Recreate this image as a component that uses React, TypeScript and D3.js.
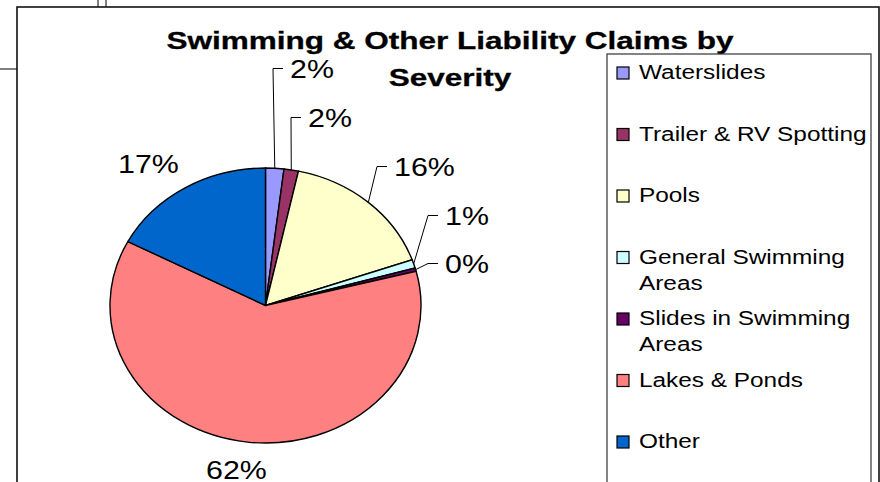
import * as d3 from 'd3';
import React from 'react';

// chart data
const categories = [
  'Waterslides',
  'Trailer & RV Spotting',
  'Pools',
  'General Swimming Areas',
  'Slides in Swimming Areas',
  'Lakes & Ponds',
  'Other',
];
const shares = [1.9, 1.5, 16.2, 1.0, 0.4, 61.7, 17.3];
const colors = ['#9999FF', '#993366', '#FFFFCC', '#CCFFFF', '#660066', '#FF8080', '#0066CC'];
const titleLines = ['Swimming & Other Liability Claims by', 'Severity'];

// where each percent label sits (left x, baseline y) and if it gets a leader line
const labelLayout: [number, number, boolean][] = [
  [290, 78, true],
  [308, 127, true],
  [394, 176, true],
  [445, 225, true],
  [445, 273, true],
  [206, 479, false],
  [118, 173, false],
];

const font = 'Arial, "Liberation Sans", sans-serif';

// wrap long legend entries on the last space
function wrap(s: string): string[] {
  if (s.length <= 21) return [s];
  const i = s.lastIndexOf(' ');
  return [s.slice(0, i), s.slice(i + 1)];
}

export default function App() {
  const width = 880;
  const height = 482;

  // pie geometry (the picture is stretched, so the pie is an ellipse)
  const cx = 265.5;
  const cy = 305.5;
  const rx = 155.5;
  const ry = 137.5;

  const arcs = d3.pie<number>().sort(null).value(d => d)(shares);
  const arc = d3.arc<d3.PieArcDatum<number>>().innerRadius(0).outerRadius(ry);

  // legend rows
  const legendX = 617;
  const legendTop = 79;
  const legendStep = 61.5;

  return (
    <svg
      width={width}
      height={height}
      style={{ position: 'absolute', left: 0, top: 0, background: '#fff' }}
    >
      {/* bits of the sheet behind the chart */}
      <line x1={98} y1={0} x2={98} y2={7} stroke="#000" />
      <line x1={106} y1={0} x2={106} y2={7} stroke="#000" />
      <line x1={0} y1={69} x2={17} y2={69} stroke="#000" />

      {/* chart frame */}
      <rect x={17} y={7} width={862} height={500} fill="#fff" stroke="#111" strokeWidth={1.6} />

      {/* title */}
      {titleLines.map((t, i) => (
        <text
          key={t}
          transform={`translate(450,${49 + i * 37}) scale(1.37,1)`}
          textAnchor="middle"
          fontFamily={font}
          fontWeight="bold"
          fontSize={23}
          stroke="#000"
          strokeWidth={0.3}
          fill="#000"
        >
          {t}
        </text>
      ))}

      {/* slices */}
      <g transform={`translate(${cx},${cy}) scale(${rx / ry},1)`}>
        {arcs.map((a, i) => (
          <path
            key={categories[i]}
            d={arc(a) || ''}
            fill={colors[i]}
            stroke="#000"
            strokeWidth={1.4}
            vectorEffect="non-scaling-stroke"
          />
        ))}
      </g>

      {/* percent labels and leader lines */}
      {arcs.map((a, i) => {
        const [lx, ly, leader] = labelLayout[i];
        const mid = (a.startAngle + a.endAngle) / 2;
        const sx = cx + rx * Math.sin(mid);
        const sy = cy - ry * Math.cos(mid);
        const my = ly - 9.5;
        return (
          <g key={categories[i]}>
            {leader && (
              <path
                d={`M${sx},${sy}L${lx - 17},${my}L${lx - 7},${my}`}
                fill="none"
                stroke="#000"
                strokeWidth={1}
              />
            )}
            <text
              transform={`translate(${lx},${ly}) scale(1.17,1)`}
              fontFamily={font}
              fontSize={26}
              fill="#000"
            >
              {Math.round(shares[i]) + '%'}
            </text>
          </g>
        );
      })}

      {/* legend */}
      <rect x={607} y={54} width={264} height={450} fill="#fff" stroke="#333" strokeWidth={1.2} />
      {categories.map((c, i) => {
        const y = legendTop + i * legendStep;
        return (
          <g key={c}>
            <rect
              x={legendX}
              y={y - 12}
              width={12}
              height={12}
              fill={colors[i]}
              stroke="#000"
              strokeWidth={1.2}
            />
            {wrap(c).map((line, j) => (
              <text
                key={line}
                transform={`translate(639,${y + j * 26}) scale(1.25,1)`}
                fontFamily={font}
                fontSize={19.5}
                fill="#000"
              >
                {line}
              </text>
            ))}
          </g>
        );
      })}
    </svg>
  );
}
